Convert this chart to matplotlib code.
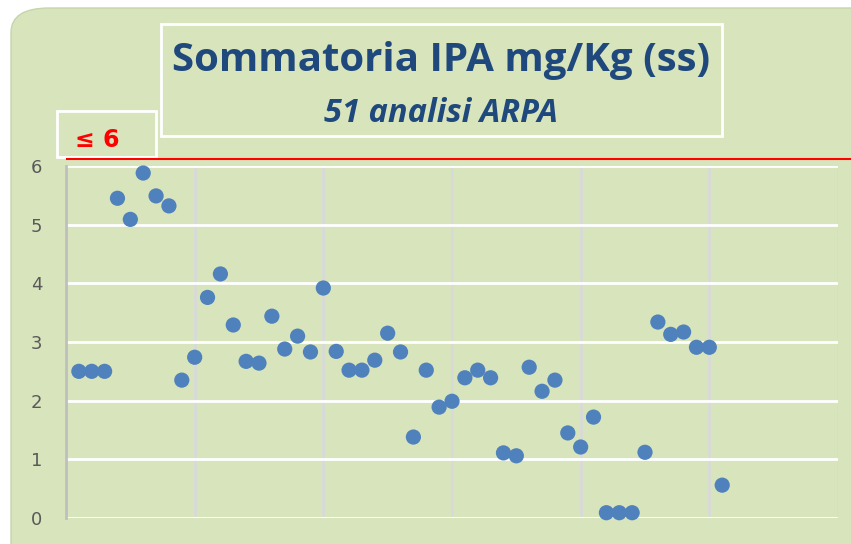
import matplotlib
matplotlib.use("Agg")
import matplotlib.pyplot as plt
from matplotlib.patches import FancyBboxPatch, Rectangle
from matplotlib.lines import Line2D

title = "Sommatoria IPA mg/Kg (ss)"
subtitle = "51 analisi ARPA"
limit_label = "≤ 6"
limit_value = 6.12
sample_index = list(range(1, 52))
values = [2.50, 2.50, 2.50, 5.45, 5.09, 5.88, 5.49, 5.32, 2.35, 2.74,
          3.76, 4.16, 3.29, 2.67, 2.64, 3.44, 2.88, 3.10, 2.83, 3.92,
          2.84, 2.52, 2.52, 2.69, 3.15, 2.83, 1.38, 2.52, 1.89, 1.99,
          2.39, 2.52, 2.39, 1.11, 1.06, 2.57, 2.16, 2.35, 1.45, 1.21,
          1.72, 0.09, 0.09, 0.09, 1.12, 3.34, 3.13, 3.17, 2.91, 2.91,
          0.56]
y_ticks = [0, 1, 2, 3, 4, 5, 6]

W, H = 851, 544
fig = plt.figure(figsize=(W/100, H/100), dpi=100)
fig.patch.set_facecolor("white")

bg = "#d8e4bc"
# rounded green panel (extends past right and bottom edges)
panel = FancyBboxPatch((11/W, 1 - 640/H), 900/W, 632/H,
                       boxstyle="round,pad=0,rounding_size=0.045",
                       transform=fig.transFigure, facecolor=bg,
                       edgecolor="#c8d4ac", linewidth=1.0, zorder=0)
fig.patches.append(panel)

ax = fig.add_axes([66/W, 1 - 518/H, (838-66)/W, (518-166)/H])
ax.set_facecolor(bg)
ax.set_zorder(1)
ax.set_xlim(0, 60)
ax.set_ylim(0, 6)
ax.set_xticks(range(0, 61, 10))
ax.set_yticks(y_ticks)
ax.xaxis.grid(True, color="#d9d9d9", linewidth=2)
ax.yaxis.grid(True, color="white", linewidth=2)
ax.set_axisbelow(True)
for s in ["top", "right", "bottom"]:
    ax.spines[s].set_visible(False)
ax.spines["left"].set_color("#bfbfbf")
ax.spines["left"].set_linewidth(2)
ax.tick_params(axis="x", length=0, labelbottom=False)
ax.tick_params(axis="y", length=0, pad=17, labelsize=13, labelcolor="#595959")

ax.scatter(sample_index, values, s=120, color="#4f81bd", edgecolors="none", zorder=3, clip_on=False)

# red limit line
yl = ax.transData.transform((0, limit_value))[1] / (H)
fig.lines.append(Line2D([67/W, 1.0], [yl, yl], transform=fig.transFigure,
                        color="#ff0000", linewidth=1.5, zorder=5))

# title box
fig.patches.append(Rectangle((161/W, 1 - 136/H), (722-161)/W, (136-24)/H,
                             transform=fig.transFigure, facecolor="none",
                             edgecolor="white", linewidth=2, zorder=4))
fig.text(441/W, 1 - 61/H, title, ha="center", va="center", fontsize=29,
         fontweight="bold", color="#1f497d", family="Open Sans")
fig.text(441/W, 1 - 113/H, subtitle, ha="center", va="center", fontsize=23.5,
         fontweight="bold", style="italic", color="#1f497d", family="Open Sans")

# limit box
fig.patches.append(Rectangle((57/W, 1 - 157/H), (156-57)/W, (157-111)/H,
                             transform=fig.transFigure, facecolor="none",
                             edgecolor="white", linewidth=2, zorder=4))
fig.text(97/W, 1 - 140/H, limit_label, ha="center", va="center", fontsize=17,
         fontweight="bold", color="#ff0000", family="DejaVu Sans")

fig.savefig("out.png", dpi=100)
